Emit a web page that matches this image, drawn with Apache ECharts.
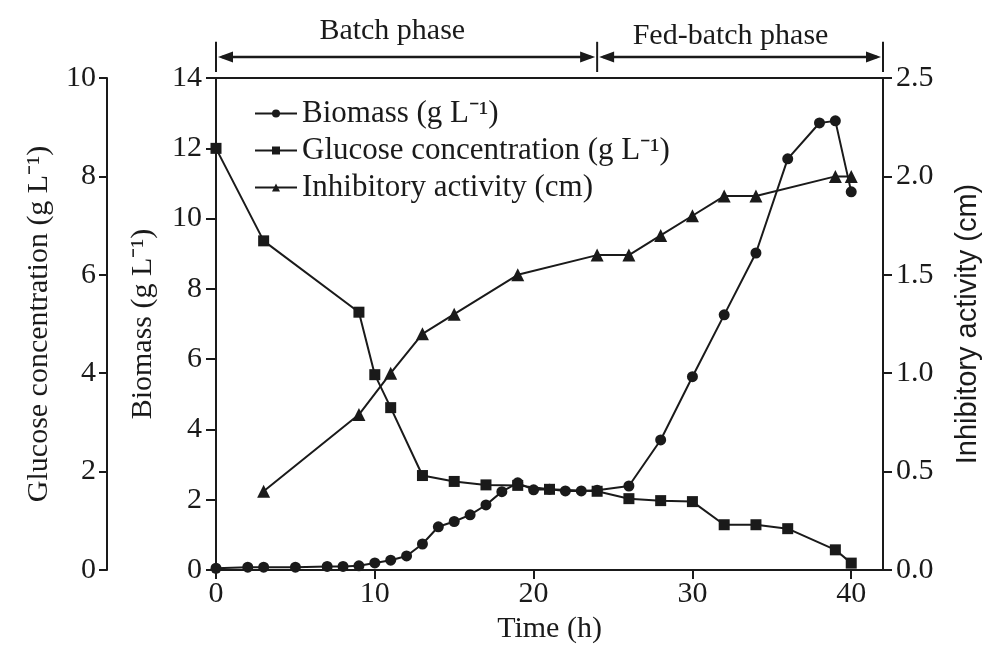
<!DOCTYPE html>
<html>
<head>
<meta charset="utf-8">
<title>Batch and fed-batch culture</title>
<script src="https://cdn.jsdelivr.net/npm/echarts@6/dist/echarts.min.js"></script>
<style>
html, body { margin: 0; padding: 0; background: #fff; }
#chart { width: 988px; height: 657px; }
</style>
</head>
<body>
<div id="chart"></div>
<script>
// sampling times (h) and values
const biomassTime = [0, 2, 3, 5, 7, 8, 9, 10, 11, 12, 13, 14, 15, 16, 17, 18, 19, 20, 21, 22, 23, 24, 26, 28, 30, 32, 34, 36, 38, 39, 40]
const biomassValues = [0.05, 0.08, 0.08, 0.08, 0.1, 0.1, 0.12, 0.2, 0.28, 0.4, 0.74, 1.23, 1.38, 1.57, 1.85, 2.23, 2.48, 2.28, 2.3, 2.25, 2.25, 2.27, 2.39, 3.7, 5.5, 7.26, 9.02, 11.7, 12.72, 12.78, 10.76]
const glucoseTime = [0, 3, 9, 10, 11, 13, 15, 17, 19, 21, 24, 26, 28, 30, 32, 34, 36, 39, 40]
const glucoseValues = [8.57, 6.69, 5.24, 3.97, 3.3, 1.92, 1.8, 1.73, 1.72, 1.64, 1.6, 1.45, 1.41, 1.39, 0.92, 0.92, 0.84, 0.41, 0.14]
const activityTime = [3, 9, 11, 13, 15, 19, 24, 26, 28, 30, 32, 34, 39, 40]
const activityValues = [0.4, 0.79, 1.0, 1.2, 1.3, 1.5, 1.6, 1.6, 1.7, 1.8, 1.9, 1.9, 2.0, 2.0]
const xTicks = [0, 10, 20, 30, 40]

// phase annotation above the plot
const phaseNames = ['Batch phase', 'Fed-batch phase']
const phaseBounds = [0, 24, 42]
const phaseLabelAt = [11.1, 32.4]

const seriesNames = [
  'Biomass (g L\u207B\u00B9)',
  'Glucose concentration (g L\u207B\u00B9)',
  'Inhibitory activity (cm)'
]

const serif = '"Liberation Serif", "Times New Roman", serif'
const sans = '"Liberation Sans", Arial, sans-serif'
const ink = '#1a1a1a'
const fs = 30

const zip = (xs, ys) => xs.map((x, i) => [x, ys[i]])

const axisBase = (extra) => Object.assign({
  type: 'value',
  axisLine: { show: true, onZero: false, lineStyle: { color: ink, width: 2 } },
  axisTick: { show: true, inside: false, length: 9, lineStyle: { color: ink, width: 2 } },
  axisLabel: { fontFamily: serif, fontSize: fs, color: ink },
  splitLine: { show: false },
  nameLocation: 'middle',
  nameTextStyle: { fontFamily: serif, fontSize: fs, color: ink }
}, extra)

const chart = echarts.init(document.getElementById('chart'))

const lineSeries = (name, data, yAxisIndex, symbol, size) => ({
  name,
  type: 'line',
  yAxisIndex,
  data,
  symbol,
  symbolSize: size,
  lineStyle: { color: ink, width: 2 },
  itemStyle: { color: ink },
  emphasis: { disabled: true }
})

chart.setOption({
  animation: false,
  backgroundColor: '#fff',
  grid: {
    left: 216,
    right: 105,
    top: 78,
    bottom: 87,
    show: true,
    borderColor: ink,
    borderWidth: 2,
    outerBoundsMode: 'none'
  },
  legend: {
    orient: 'vertical',
    left: 249,
    top: 93,
    itemWidth: 42,
    itemHeight: 10,
    itemGap: 6,
    textStyle: { fontFamily: serif, fontSize: 31, color: ink },
    data: seriesNames
  },
  xAxis: axisBase({
    min: 0,
    max: 42,
    interval: 10,
    axisTick: { show: true, length: 9, lineStyle: { color: ink, width: 2 }, customValues: xTicks },
    axisLabel: { fontFamily: serif, fontSize: fs, color: ink, margin: 9, customValues: xTicks },
    name: 'Time (h)',
    nameGap: 44
  }),
  yAxis: [
    axisBase({
      min: 0,
      max: 14,
      interval: 2,
      position: 'left',
      axisTick: { show: true, length: 10, lineStyle: { color: ink, width: 2 } },
      axisLabel: { fontFamily: serif, fontSize: fs, color: ink, margin: 14 },
      name: seriesNames[0],
      nameGap: 58
    }),
    axisBase({
      min: 0,
      max: 10,
      interval: 2,
      position: 'left',
      offset: 109,
      axisTick: { show: true, length: 8, lineStyle: { color: ink, width: 2 } },
      axisLabel: { fontFamily: serif, fontSize: fs, color: ink, margin: 11 },
      name: seriesNames[1],
      nameGap: 53
    }),
    axisBase({
      min: 0,
      max: 2.5,
      interval: 0.5,
      position: 'right',
      axisLabel: { fontFamily: serif, fontSize: fs, color: ink, margin: 13, formatter: v => v.toFixed(1) },
      name: seriesNames[2],
      nameRotate: 90,
      nameGap: 70,
      nameTextStyle: { fontFamily: sans, fontSize: 29, color: ink }
    })
  ],
  series: [
    lineSeries(seriesNames[0], zip(biomassTime, biomassValues), 0, 'circle', 11),
    lineSeries(seriesNames[1], zip(glucoseTime, glucoseValues), 1, 'rect', 11),
    lineSeries(seriesNames[2], zip(activityTime, activityValues), 2, 'triangle', 13)
  ]
})

// phase arrows, placed through the biomass / time scales
const px = t => chart.convertToPixel({ xAxisIndex: 0 }, t)
const py = v => chart.convertToPixel({ yAxisIndex: 0 }, v)
const yArrow = py(14.6)
const yBarTop = py(15.03)
const yBarBottom = py(14.17)
const yText = [py(15.32), py(15.18)]
const head = 15
const half = 5.5

const graphics = []
phaseBounds.forEach(b => {
  graphics.push({
    type: 'line',
    shape: { x1: px(b), y1: yBarTop, x2: px(b), y2: yBarBottom },
    style: { stroke: ink, lineWidth: 2 }
  })
})
phaseNames.forEach((name, i) => {
  const a = px(phaseBounds[i]) + 2
  const b = px(phaseBounds[i + 1]) - 2
  graphics.push({
    type: 'line',
    shape: { x1: a + 4, y1: yArrow, x2: b - 4, y2: yArrow },
    style: { stroke: ink, lineWidth: 2.5 }
  })
  graphics.push({
    type: 'polygon',
    shape: { points: [[a, yArrow], [a + head, yArrow - half], [a + head, yArrow + half]] },
    style: { fill: ink }
  })
  graphics.push({
    type: 'polygon',
    shape: { points: [[b, yArrow], [b - head, yArrow - half], [b - head, yArrow + half]] },
    style: { fill: ink }
  })
  graphics.push({
    type: 'text',
    x: px(phaseLabelAt[i]),
    y: yText[i],
    style: {
      text: name,
      fontFamily: serif,
      fontSize: fs,
      fill: ink,
      align: 'center',
      verticalAlign: 'middle'
    }
  })
})

chart.setOption({ graphic: graphics })
</script>
</body>
</html>
